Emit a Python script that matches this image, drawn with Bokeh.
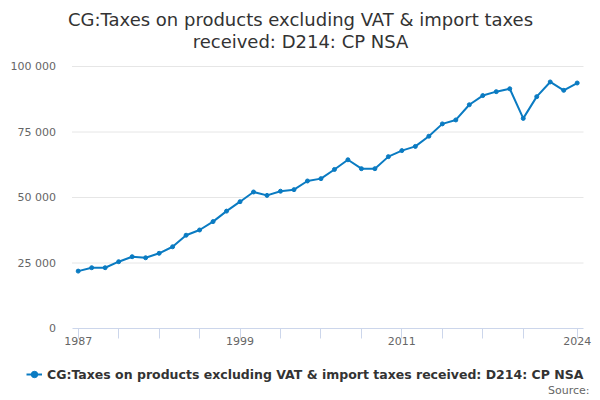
from bokeh.plotting import figure
from bokeh.models import Label, Legend, LegendItem, FixedTicker, Range1d
from bokeh.embed import file_html
from bokeh.resources import INLINE

years = list(range(1987, 2025))
values = [21900, 23200, 23200, 25500, 27400, 27000, 28700, 31200, 35600, 37600,
          40800, 44800, 48400, 52100, 50800, 52400, 53000, 56300, 57200, 60700,
          64400, 61000, 61000, 65600, 67900, 69500, 73400, 78100, 79600, 85400,
          88900, 90400, 91500, 80200, 88500, 94100, 90900, 93700]
y_ticks = [0, 25000, 50000, 75000, 100000]
y_tick_labels = ["0", "25 000", "50 000", "75 000", "100 000"]
x_ticks = [1987, 1990, 1993, 1996, 1999, 2002, 2005, 2008, 2011, 2014, 2017, 2020, 2024]
x_tick_labels = ["1987", "", "", "", "1999", "", "", "", "2011", "", "", "", "2024"]
title_lines = ["CG:Taxes on products excluding VAT & import taxes",
               "received: D214: CP NSA"]
series_name = "CG:Taxes on products excluding VAT & import taxes received: D214: CP NSA"
source_text = "Source:"

COLOR = "#0a7bc2"
FONT = "DejaVu Sans"
W, H = 600, 400

# plot area (axis extents) and full-canvas ranges
X_LO, X_HI = 1986.541, 2024.467
p = figure(width=W, height=H, output_backend="svg", toolbar_location=None,
           x_range=Range1d(1981.239, 2025.728), y_range=Range1d(-27481, 125191),
           min_border_left=0, min_border_right=0, min_border_top=0,
           min_border_bottom=0)
p.outline_line_color = None
p.background_fill_color = "white"
p.border_fill_color = "white"
p.xgrid.grid_line_color = None
p.ygrid.grid_line_color = None

# horizontal grid lines over the plot area only
gy = y_ticks[1:]
p.segment(x0=[X_LO] * len(gy), x1=[X_HI] * len(gy), y0=gy, y1=gy,
          line_color="#e6e6e6", line_width=1)

line = p.line(years, values, line_color=COLOR, line_width=2)
dots = p.scatter(years, values, size=4, fill_color=COLOR, line_color=COLOR)

# y axis
p.yaxis.fixed_location = X_LO
p.yaxis.bounds = (0, 100000)
p.yaxis.ticker = FixedTicker(ticks=y_ticks)
p.yaxis.major_label_overrides = {t: l for t, l in zip(y_ticks, y_tick_labels)}
p.yaxis.axis_line_color = None
p.yaxis.major_tick_line_color = None
p.yaxis.minor_tick_line_color = None
p.yaxis.major_tick_out = 0
p.yaxis.major_label_standoff = 16
p.yaxis.major_label_text_font = FONT
p.yaxis.major_label_text_font_size = "11px"
p.yaxis.major_label_text_color = "#666666"

# x axis
p.xaxis.fixed_location = 0
p.xaxis.bounds = (X_LO, X_HI)
p.xaxis.ticker = FixedTicker(ticks=x_ticks)
p.xaxis.major_label_overrides = {t: l for t, l in zip(x_ticks, x_tick_labels)}
p.xaxis.axis_line_color = "#ccd6eb"
p.xaxis.major_tick_line_color = "#ccd6eb"
p.xaxis.minor_tick_line_color = None
p.xaxis.major_tick_out = 10
p.xaxis.major_tick_in = 0
p.xaxis.major_label_standoff = -1
p.xaxis.major_label_text_font = FONT
p.xaxis.major_label_text_font_size = "11px"
p.xaxis.major_label_text_color = "#666666"

# title lines (screen units from the bottom-left of the canvas)
for txt, yy in zip(title_lines, [H - 19, H - 41]):
    p.add_layout(Label(x=W / 2, y=yy, x_units="screen", y_units="screen", text=txt,
                       text_align="center", text_baseline="middle",
                       text_font=FONT, text_font_size="18px", text_color="#333333"))

legend = Legend(items=[LegendItem(label=series_name, renderers=[line, dots])],
                location=(26, 18), orientation="horizontal",
                label_text_font=FONT, label_text_font_size="12.5px",
                label_text_font_style="bold", label_text_color="#333333",
                glyph_width=16, glyph_height=16, label_height=16, label_standoff=5,
                padding=0, margin=0, border_line_color=None,
                background_fill_alpha=0)
p.add_layout(legend, "center")

p.add_layout(Label(x=589, y=H - 390, x_units="screen", y_units="screen", text=source_text,
                   text_align="right", text_baseline="middle",
                   text_font=FONT, text_font_size="11px", text_color="#666666"))

open("out.html", "w").write(file_html(p, INLINE))
